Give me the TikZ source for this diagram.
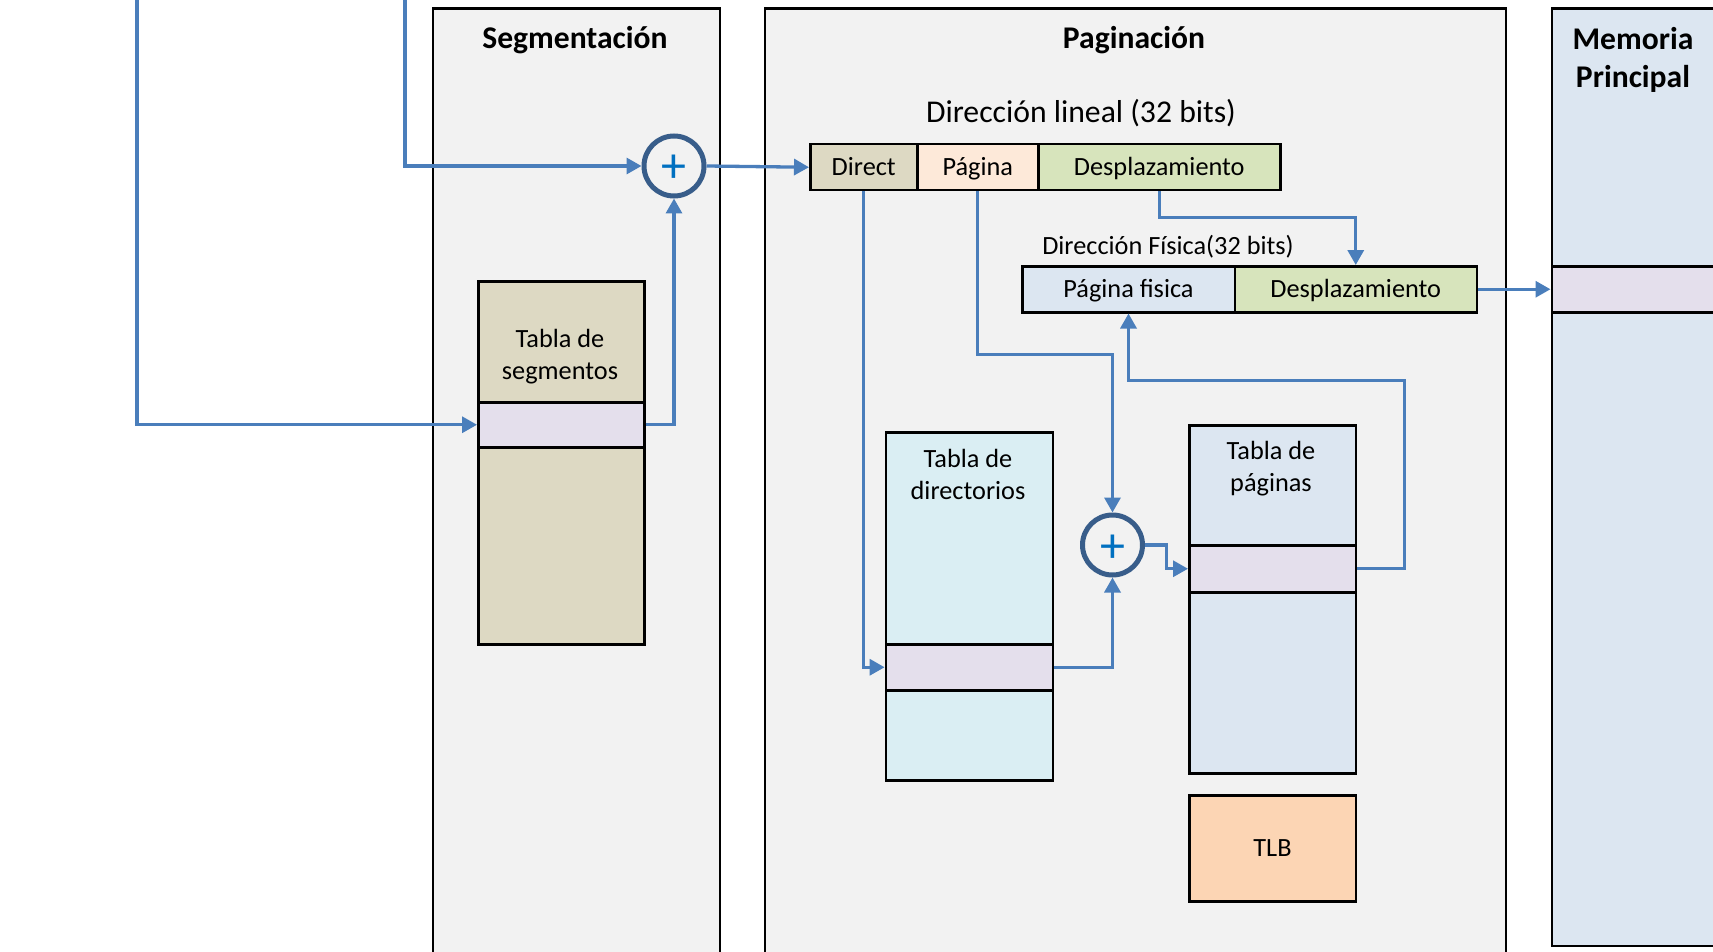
\documentclass[tikz,border=0pt]{standalone}
\usepackage{fontspec}
\setmainfont{Carlito}
\usetikzlibrary{arrows.meta}

\definecolor{panel}{HTML}{F2F2F2}
\definecolor{segtan}{HTML}{DDD9C3}
\definecolor{rowpink}{HTML}{E4DFEC}
\definecolor{pagpeach}{HTML}{FDE9D9}
\definecolor{offgreen}{HTML}{D7E4BC}
\definecolor{lightblue}{HTML}{DCE6F1}
\definecolor{dirblue}{HTML}{DAEEF3}
\definecolor{tlborange}{HTML}{FCD5B4}
\definecolor{linkblue}{HTML}{4A7EBB}
\definecolor{adderblue}{HTML}{385D8A}
\definecolor{plusblue}{HTML}{0070C0}

\begin{document}
\begin{tikzpicture}[x=1pt,y=-1pt,
  panelbox/.style={draw=black, line width=2.2pt, inner sep=0pt, anchor=north west},
  cell/.style={draw=black, line width=2.5pt, inner sep=0pt, anchor=north west},
  txt/.style={font=\fontsize{26.3}{32}\selectfont, inner sep=0pt, align=center},
  celltxt/.style={txt, text height=20pt, text depth=4pt},
  bigtxt/.style={font=\fontsize{31.7}{38}\selectfont, inner sep=0pt},
  ttl/.style={font=\bfseries\fontsize{31.6}{38}\selectfont, inner sep=0pt, align=center},
  link/.style={draw=linkblue, line width=3.3pt, -{Triangle[length=15pt,width=16pt]}},
  adder/.style={circle, draw=adderblue, line width=5pt, fill=panel, minimum size=60pt,
    inner sep=0pt, text=plusblue, font=\fontsize{50}{50}\selectfont,
    text height=34pt, text depth=0pt}]

\useasboundingbox (0,0) rectangle (1713,952);
\begin{scope}
\clip (0,0) rectangle (1713,952);

% stage panels
\node[panelbox, fill=panel, minimum width=287.5pt, minimum height=980pt] (seg) at (431.5,7.5) {};
\node[panelbox, fill=panel, minimum width=741pt, minimum height=980pt] (pag) at (764,7.5) {};
\node[panelbox, fill=lightblue, minimum width=220pt, minimum height=937.5pt] (mem) at (1550.5,7.5) {};

\node[ttl] (segttl) at (575,40) {Segmentación};
\node[ttl] (pagttl) at (1134,40) {Paginación};
\node[ttl] (memttl) at (1633,59.5) {Memoria\\Principal};

% segment table
\node[cell, fill=segtan, minimum width=166pt, minimum height=363pt] (segtab) at (477,280) {};
\node[cell, fill=rowpink, minimum width=166pt, minimum height=45pt] (segrow) at (477,401) {};
\node[txt] (segtxt) at (560,357) {Tabla de\\segmentos};

% first adder
\node[adder] (add1) at (674,166) {+};

% linear address
\node[bigtxt] (lintxt) at (1081,113) {Dirección lineal (32 bits)};
\node[cell, fill=segtan, minimum width=107pt, minimum height=46pt, celltxt] (ldir) at (809,143) {Direct};
\node[cell, fill=pagpeach, minimum width=121pt, minimum height=46pt, celltxt] (lpag) at (916,143) {Página};
\node[cell, fill=offgreen, minimum width=242pt, minimum height=46pt, celltxt] (ldes) at (1037,143) {Desplazamiento};

% physical address
\node[txt] (phystxt) at (1168,247) {Dirección Física(32 bits)};
\node[cell, fill=lightblue, minimum width=212.5pt, minimum height=46pt, celltxt] (ppag) at (1021,265) {Página fisica};
\node[cell, fill=offgreen, minimum width=242pt, minimum height=46pt, celltxt] (pdes) at (1233.5,265) {Desplazamiento};

% main memory slot
\node[cell, fill=rowpink, minimum width=220pt, minimum height=46pt] (memrow) at (1550.5,265) {};

% directory table
\node[cell, fill=dirblue, minimum width=167pt, minimum height=348pt] (dirtab) at (884.6,431) {};
\node[cell, fill=rowpink, minimum width=167pt, minimum height=46pt] (dirrow) at (884.6,643) {};
\node[txt] (dirtxt) at (968,474) {Tabla de\\directorios};

% page table
\node[cell, fill=lightblue, minimum width=166.5pt, minimum height=348pt] (pagtab) at (1188,424) {};
\node[cell, fill=rowpink, minimum width=166.5pt, minimum height=47pt] (pagrow) at (1188,544) {};
\node[txt] (pagtxt) at (1271,468.5) {Tabla de\\páginas};

% TLB
\node[cell, fill=tlborange, minimum width=166.5pt, minimum height=106pt, celltxt] (tlb) at (1188,794) {TLB};

% second adder
\node[adder] (add2) at (1112.5,545) {+};

% incoming lines from the left
\coordinate (inA) at (137,-10);
\coordinate (inB) at (405,-10);

% connectors
\draw[link] (inA) |- (segrow.west);
\draw[link] (inB) |- (add1.west);
\draw[link] (segrow.east) -| (add1.south);
\draw[link] (add1.east) -- (ldir.west);
\draw[link] (ldir.south) |- (dirrow.west);
\draw[link] (lpag.south) -- ++(0,163) -| (add2.north);
\draw[link] (ldes.south) -- ++(0,26) -| (pdes.north);
\draw[link] (dirrow.east) -| (add2.south);
\draw[link] (add2.east) -- ++(21.5,0) |- (pagrow.west);
\draw[link] (pagrow.east) -- ++(47.5,0) -- ++(0,-188.5) -| (ppag.south);
\draw[link] (pdes.east) -- (memrow.west);
\end{scope}
\end{tikzpicture}
\end{document}
